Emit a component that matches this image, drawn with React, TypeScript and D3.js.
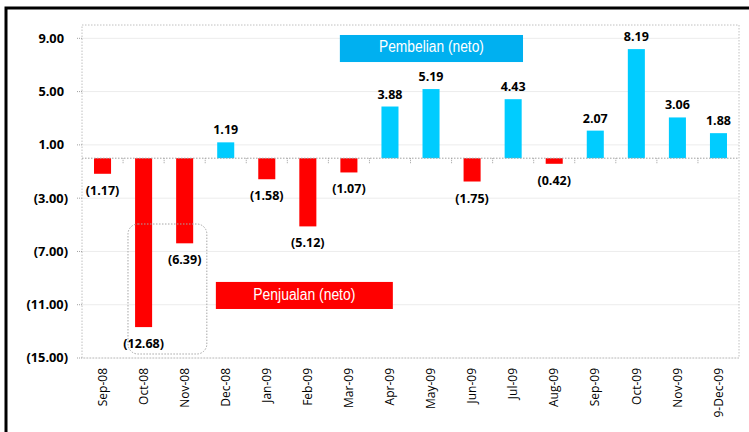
import React from "react";
import * as d3 from "d3";

const months = [
  "Sep-08", "Oct-08", "Nov-08", "Dec-08", "Jan-09", "Feb-09", "Mar-09", "Apr-09",
  "May-09", "Jun-09", "Jul-09", "Aug-09", "Sep-09", "Oct-09", "Nov-09", "9-Dec-09",
];
const netValues = [
  -1.17, -12.68, -6.39, 1.19, -1.58, -5.12, -1.07, 3.88,
  5.19, -1.75, 4.43, -0.42, 2.07, 8.19, 3.06, 1.88,
];
const yTicks = [-15, -11, -7, -3, 1, 5, 9];
const buyLabel = "Pembelian (neto)";
const sellLabel = "Penjualan (neto)";

const W = 749;
const H = 432;
const left = 82, right = 739, top = 25, bottom = 358;

const RED = "#ff0000";
const CYAN = "#00ccff";
const LEGEND_BLUE = "#00b0f0";
const FONT = "'Open Sans', sans-serif";
const BOX_FONT = "'Liberation Sans Narrow', 'Liberation Sans', Arial, sans-serif";

const fmt = (v: number) => {
  const s = d3.format(".2f")(Math.abs(v));
  return v < 0 ? `(${s})` : s;
};

export default function App() {
  const x = d3.scaleBand<string>()
    .domain(months)
    .range([left, right])
    .paddingInner(0.585)
    .paddingOuter(0.2925);
  const y = d3.scaleLinear().domain([-15, 10]).range([bottom, top]);
  const step = x.step();
  const bx = (i: number) => left + i * step; // position in category units
  const y0 = y(0);

  // annotation boxes, in data units
  const buyBox = { x0: bx(6.28), x1: bx(10.74), y0: y(9.25), y1: y(7.22) };
  const sellBox = { x0: bx(3.26), x1: bx(7.57), y0: y(-9.29), y1: y(-11.32) };

  return (
    <div style={{ position: "absolute", left: 0, top: 0 }}>
      <svg width={W} height={H} style={{ display: "block", background: "#fff" }}>
        {/* outer frame */}
        <rect x={6} y={8} width={W + 10} height={H + 10} fill="none" stroke="#000" strokeWidth={3} />

        {/* gridlines */}
        {yTicks.map((t) => (
          <line key={"g" + t} x1={left} x2={right} y1={y(t)} y2={y(t)} stroke="#ececec" strokeWidth={1} />
        ))}

        {/* plot border (dotted) */}
        <rect x={left} y={top} width={right - left} height={bottom - top} fill="none"
          stroke="#c0c0c0" strokeWidth={1} strokeDasharray="1.5,1.5" />

        {/* y ticks + labels */}
        {yTicks.map((t) => (
          <g key={"t" + t}>
            <line x1={left - 5} x2={left} y1={y(t)} y2={y(t)} stroke="#a0a0a0" strokeDasharray="1,1" />
            <text x={t < 0 ? 68 : 64} y={y(t)} dy="0.35em" textAnchor="end"
              fontFamily={FONT} fontWeight="bold" fontSize={12.8} fill="#000">
              {fmt(t)}
            </text>
          </g>
        ))}

        {/* bars */}
        {netValues.map((v, i) => (
          <rect key={"b" + i} x={x(months[i])} width={x.bandwidth()}
            y={Math.min(y(v), y0)} height={Math.abs(y(v) - y0)}
            fill={v < 0 ? RED : CYAN} />
        ))}

        {/* zero axis */}
        <line x1={left} x2={right} y1={y0} y2={y0} stroke="#a0a0a0" strokeDasharray="1.5,1.5" />
        {months.slice(1).map((m, i) => (
          <line key={"xt" + m} x1={bx(i + 1)} x2={bx(i + 1)} y1={y0} y2={y0 + 5}
            stroke="#a0a0a0" strokeDasharray="1,1" />
        ))}

        {/* value labels */}
        {netValues.map((v, i) => {
          const cx = (x(months[i]) as number) + x.bandwidth() / 2;
          return (
            <text key={"l" + i} x={cx} y={v < 0 ? y(v) + 21 : y(v) - 8} textAnchor="middle"
              fontFamily={FONT} fontWeight="bold" fontSize={12.5} fill="#000">
              {fmt(v)}
            </text>
          );
        })}

        {/* x labels */}
        {months.map((m) => {
          const cx = (x(m) as number) + x.bandwidth() / 2;
          return (
            <text key={"x" + m} transform={`translate(${cx},${bottom + 10}) rotate(-90)`}
              textAnchor="end" dy="0.35em" fontFamily={FONT} fontSize={12} fill="#000">
              {m}
            </text>
          );
        })}

        {/* callout around Oct/Nov 08 */}
        <rect x={bx(1.12)} y={y(-4.94)} width={bx(3.04) - bx(1.12)} height={y(-14.7) - y(-4.94)}
          rx={10} ry={10} fill="none" stroke="#a6a6a6" strokeDasharray="1.5,1.5" />

        {/* legend boxes */}
        <rect x={buyBox.x0} y={buyBox.y0} width={buyBox.x1 - buyBox.x0} height={buyBox.y1 - buyBox.y0} fill={LEGEND_BLUE} />
        <text x={(buyBox.x0 + buyBox.x1) / 2} y={buyBox.y0 + 17} textAnchor="middle"
          fontFamily={BOX_FONT} fontSize={16} textLength={105} lengthAdjust="spacingAndGlyphs" fill="#fff">
          {buyLabel}
        </text>
        <rect x={sellBox.x0} y={sellBox.y0} width={sellBox.x1 - sellBox.x0} height={sellBox.y1 - sellBox.y0} fill={RED} />
        <text x={(sellBox.x0 + sellBox.x1) / 2} y={sellBox.y0 + 18} textAnchor="middle"
          fontFamily={BOX_FONT} fontSize={16} textLength={102} lengthAdjust="spacingAndGlyphs" fill="#fff">
          {sellLabel}
        </text>
      </svg>
    </div>
  );
}
